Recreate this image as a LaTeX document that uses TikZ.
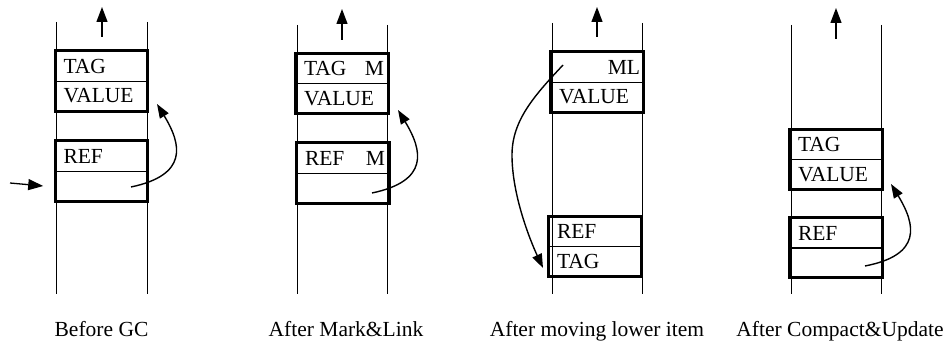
\documentclass[tikz,border=0pt]{standalone}
\usepackage{fontspec}
\setmainfont{Liberation Serif}
\usetikzlibrary{arrows.meta}

\begin{document}
\begin{tikzpicture}[x=1pt,y=-1pt,font=\fontsize{21.5}{24}\selectfont,
	cell/.style={draw,line width=0.6pt,minimum width=92pt,minimum height=30pt,
		inner xsep=8pt,inner ysep=0pt,text width=76pt,align=left},
	block/.style={line width=2.8pt},
	col/.style={line width=0.8pt},
	up/.style={line width=1.3pt,-{Triangle[length=15pt,width=11pt]}},
	ptr/.style={line width=1.4pt,-{Triangle[length=14pt,width=10pt]}}]
	\useasboundingbox (0,0) rectangle (943,345);

	%columns
	\draw[col] (56,22) -- (56,294);   \draw[col] (147,22) -- (147,294);
	\draw[col] (297,25) -- (297,294); \draw[col] (387,25) -- (387,294);
	\draw[col] (552,23) -- (552,294); \draw[col] (642,23) -- (642,294);
	\draw[col] (791,25) -- (791,294); \draw[col] (881,25) -- (881,294);

	%before GC
	\node[cell] (a-tag) at (101.5,66) {TAG};
	\node[cell] (a-val) at (101.5,96) {VALUE};
	\node[cell] (a-ref) at (101.5,156) {REF};
	\node[cell] (a-ptr) at (101.5,186) {};
	\draw[block] (a-tag.north west) rectangle (a-val.south east); %upper item
	\draw[block] (a-ref.north west) rectangle (a-ptr.south east); %lower item

	%after mark&link
	\node[cell] (b-tag) at (342,68.5) {TAG\hfill M\kern-4pt};
	\node[cell] (b-val) at (342,98.5) {VALUE};
	\node[cell] (b-ref) at (343,158) {REF\hfill M\kern-4pt};
	\node[cell] (b-ptr) at (343,188) {};
	\draw[block] (b-tag.north west) rectangle (b-val.south east);
	\draw[block] (b-ref.north west) rectangle (b-ptr.south east);

	%after moving lower item
	\node[cell] (c-tag) at (597,67) {\hfill ML\kern-5pt};
	\node[cell] (c-val) at (597,97) {VALUE};
	\node[cell] (c-ref) at (595,231.5) {REF};
	\node[cell] (c-low) at (595,261.5) {TAG};
	\draw[block] (c-tag.north west) rectangle (c-val.south east);
	\draw[block] (c-ref.north west) rectangle (c-low.south east);

	%after compact&update
	\node[cell] (d-tag) at (836,144.5) {TAG};
	\node[cell] (d-val) at (836,174.5) {VALUE};
	\node[cell] (d-ref) at (836,233) {REF};
	\node[cell] (d-ptr) at (836,262.5) {};
	\draw[block] (d-tag.north west) rectangle (d-val.south east);
	\draw[block] (d-ref.north west) rectangle (d-ptr.south east);

	%stack tops
	\coordinate (a-up) at (102,7);  \draw[up] (102,37) -- (a-up);
	\coordinate (b-up) at (342,9);  \draw[up] (342,40) -- (b-up);
	\coordinate (c-up) at (597,7);  \draw[up] (597,37) -- (c-up);
	\coordinate (d-up) at (836,8);  \draw[up] (836,39) -- (d-up);

	%root pointer
	\coordinate (a-in) at (10,183);
	\draw[up] (a-in) -- ([xshift=-12pt]a-ptr.west);

	%references
	\coordinate (a-from) at (131,187); \coordinate (a-to) at (157,104);
	\draw[ptr] (a-from) .. controls (188,175) and (182,145) .. (a-to);
	\coordinate (b-from) at (372,193); \coordinate (b-to) at (398,110);
	\draw[ptr] (b-from) .. controls (429,181) and (423,151) .. (b-to);
	\coordinate (c-from) at (563,65); \coordinate (c-to) at (543,268);
	\draw[ptr] (c-from) .. controls (535,95) and (512,120) .. (512,155)
	  .. controls (512,195) and (530,240) .. (c-to); %link to moved item
	\coordinate (d-from) at (865,266); \coordinate (d-to) at (891,184);
	\draw[ptr] (d-from) .. controls (922,255) and (916,225) .. (d-to);

	%labels
	\node[anchor=base] (lbl-a) at (101.5,336) {Before GC};
	\node[anchor=base] (lbl-b) at (346,336) {After Mark\&Link};
	\node[anchor=base] (lbl-c) at (597,336) {After moving lower item};
	\node[anchor=base] (lbl-d) at (840,336) {After Compact\&Update};
\end{tikzpicture}
\end{document}
